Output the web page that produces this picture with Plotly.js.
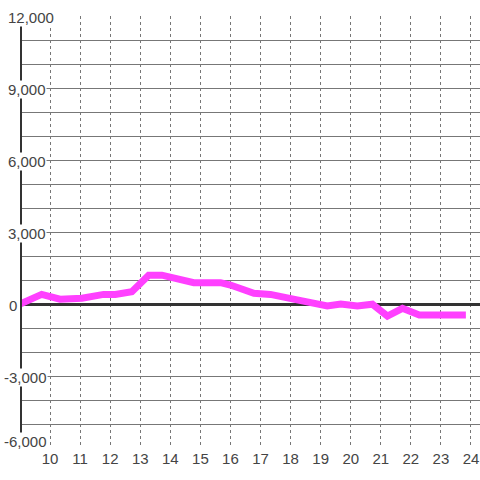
<!DOCTYPE html>
<html>
<head>
<meta charset="utf-8">
<script src="https://cdn.plot.ly/plotly-3.0.1.min.js"></script>
<style>html,body{margin:0;padding:0;background:#fff}#chart{width:480px;height:480px}</style>
</head>
<body>
<div id="chart"></div>
<script>
// Data
const xValues = [9.0, 9.72, 10.33, 11.06, 11.78, 12.17, 12.72, 13.28, 13.72, 14.17, 14.78, 15.67, 16.0, 16.78, 17.33, 18.22, 19.22, 19.67, 20.22, 20.72, 21.22, 21.72, 22.28, 23.83];
const yValues = [0, 400, 200, 240, 400, 400, 510, 1200, 1200, 1080, 890, 890, 790, 450, 400, 170, -80, 0, -80, -10, -500, -180, -460, -460];
const yTickValues = [12000, 9000, 6000, 3000, 0, -3000, -6000];
const yTickLabels = ["12,000", "9,000", "6,000", "3,000", "0", "-3,000", "-6,000"];
const xTickValues = [10, 11, 12, 13, 14, 15, 16, 17, 18, 19, 20, 21, 22, 23, 24];

const fontFam = 'Liberation Sans, Arial, sans-serif';

const annotations = yTickValues.map((v, i) => ({
  xref: 'paper', yref: 'y', x: 0, y: v,
  text: yTickLabels[i], showarrow: false,
  xanchor: 'left', yanchor: 'middle',
  xshift: v < 0 ? -17 : (v === 0 ? -12 : -13),
  yshift: v === -6000 ? 7 : -1,
  bgcolor: '#ffffff', borderpad: 0,
  font: {family: fontFam, size: 15, color: '#444'}
}));

const data = [{
  x: xValues, y: yValues, type: 'scatter', mode: 'lines',
  line: {color: '#ff40ff', width: 7}, hoverinfo: 'skip'
}];

const layout = {
  width: 480, height: 480,
  margin: {l: 20, r: 0, t: 16, b: 32},
  paper_bgcolor: '#ffffff', plot_bgcolor: '#ffffff',
  showlegend: false,
  xaxis: {
    range: [9, 24.3], tickvals: xTickValues, ticktext: xTickValues.map(String),
    showgrid: true, gridcolor: '#777', gridwidth: 1, griddash: 'dot',
    zeroline: false, showline: false, ticks: '',
    tickfont: {family: fontFam, size: 15, color: '#444'}
  },
  yaxis: {
    range: [-6000, 12000], dtick: 1000, tick0: 0,
    showgrid: true, gridcolor: '#777', gridwidth: 1,
    zeroline: true, zerolinecolor: '#333', zerolinewidth: 3,
    showticklabels: false, ticks: '', showline: false
  },
  shapes: [{
    type: 'line', xref: 'x', yref: 'paper', x0: 9, x1: 9, y0: 0, y1: 1,
    line: {color: '#333', width: 4}, layer: 'above'
  }],
  annotations: annotations
};

Plotly.newPlot('chart', data, layout, {staticPlot: true, displayModeBar: false});
</script>
</body>
</html>
